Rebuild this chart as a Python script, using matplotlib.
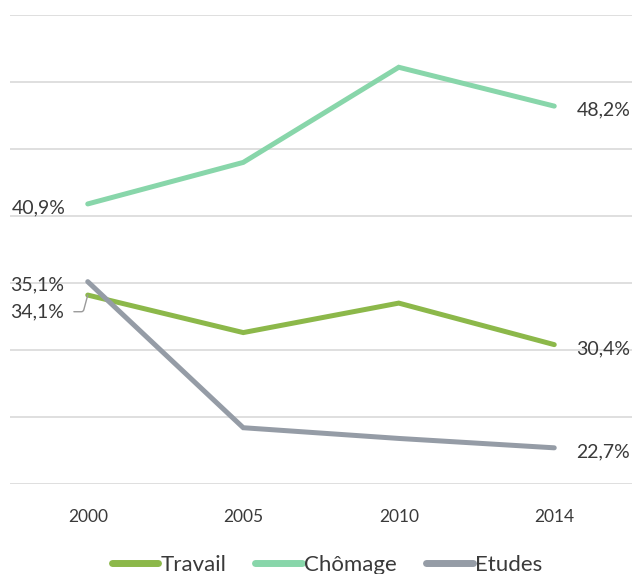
import matplotlib
matplotlib.use("Agg")
import matplotlib.pyplot as plt

plt.rcParams['font.family'] = ['Lato', 'DejaVu Sans']

years = ["2000", "2005", "2010", "2014"]
travail = [34.1, 31.3, 33.5, 30.4]
chomage = [40.9, 44.0, 51.1, 48.2]
etudes = [35.1, 24.2, 23.4, 22.7]

series = [
    ("Travail", travail, "#8cb84a"),
    ("Chômage", chomage, "#88d6aa"),
    ("Etudes", etudes, "#959ca6"),
]

text_color = "#3a3a3a"

fig = plt.figure(figsize=(6.41, 5.74), dpi=100)
ax = fig.add_axes([10 / 641, 1 - 484 / 574, 622 / 641, 469 / 574])

x = list(range(len(years)))
for name, values, color in series:
    ax.plot(x, values, color=color, lw=3.6, solid_capstyle='round',
            solid_joinstyle='miter', label=name, zorder=3)

ax.set_xlim(-0.5, 3.5)
ax.set_ylim(20, 55)
ax.set_yticks(range(20, 56, 5))
ax.yaxis.grid(True, color="#dcdcdc", lw=1.3)
ax.set_axisbelow(True)
ax.tick_params(axis='y', left=False, labelleft=False)
ax.tick_params(axis='x', length=0, pad=18, labelsize=12.5, labelcolor=text_color)
ax.set_xticks(x)
ax.set_xticklabels(years)
for s in ax.spines.values():
    s.set_visible(False)

fmt = lambda v: "{:.1f}%".format(v).replace(".", ",")

# start labels
ax.annotate(fmt(chomage[0]), (x[0], chomage[0]), xytext=(-16, -3),
            textcoords='offset points', ha='right', va='center',
            fontsize=14, color=text_color)
ax.annotate(fmt(etudes[0]), (x[0], etudes[0]), xytext=(-17, -2),
            textcoords='offset points', ha='right', va='center',
            fontsize=14, color=text_color)
ax.annotate(fmt(travail[0]), (x[0], travail[0]), xytext=(-17, -12),
            textcoords='offset points', ha='right', va='center',
            fontsize=14, color=text_color,
            arrowprops=dict(arrowstyle='-', color="#9a9a9a", lw=1,
                            connectionstyle="angle,angleA=0,angleB=75,rad=2",
                            shrinkA=5, shrinkB=0))

# end labels
for values in (chomage, travail, etudes):
    ax.annotate(fmt(values[-1]), (x[-1], values[-1]), xytext=(16, -3),
                textcoords='offset points', ha='left', va='center',
                fontsize=14, color=text_color)

leg = fig.legend(loc='center', bbox_to_anchor=(0.51, 1 - 565 / 574), ncol=3,
                 frameon=False, fontsize=16, handlelength=2.1,
                 handletextpad=0.1, columnspacing=1.3, labelcolor=text_color)
for line in leg.get_lines():
    line.set_linewidth(5)

fig.savefig("out.png", dpi=100)
